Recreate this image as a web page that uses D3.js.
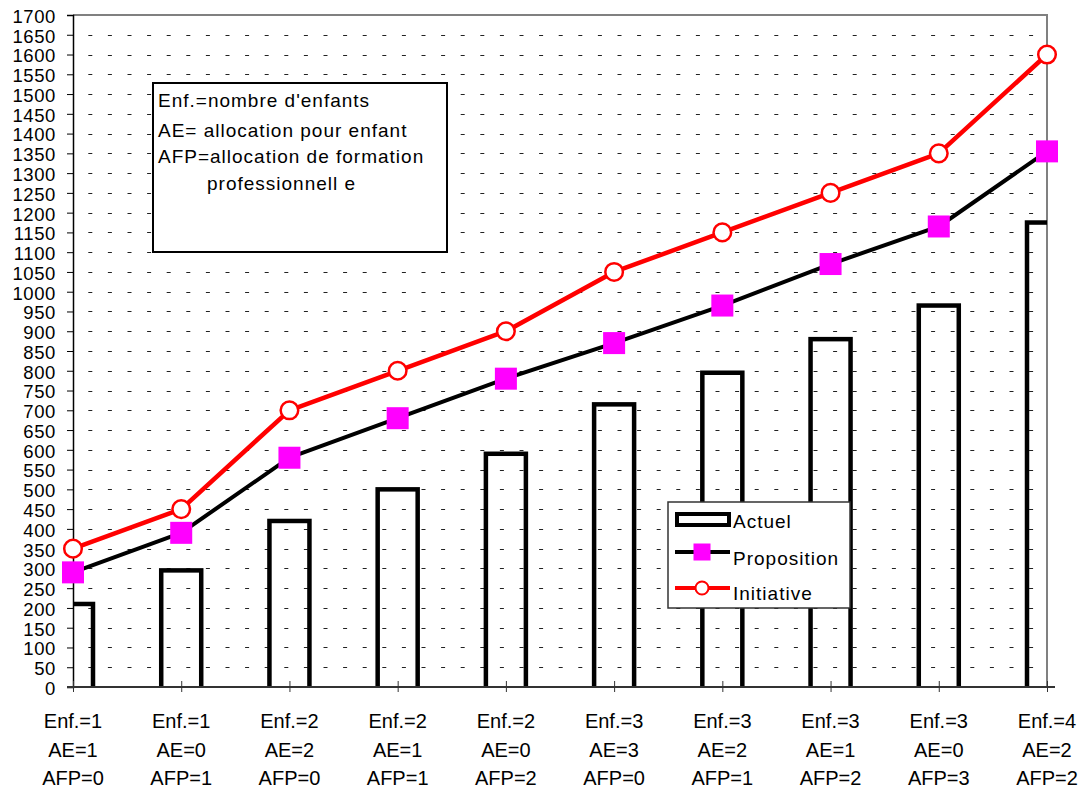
<!DOCTYPE html>
<html>
<head>
<meta charset="utf-8">
<script src="https://cdn.jsdelivr.net/npm/d3@7"></script>
<style>
  html, body { margin: 0; padding: 0; background: #fff; }
  svg { display: block; font-family: "Liberation Sans", Arial, sans-serif; }
</style>
</head>
<body>
<svg id="chart" width="1087" height="792"></svg>
<script>
// Household situations (three-line category labels)
const enfLabels = ["Enf.=1", "Enf.=1", "Enf.=2", "Enf.=2", "Enf.=2", "Enf.=3", "Enf.=3", "Enf.=3", "Enf.=3", "Enf.=4"];
const aeLabels  = ["AE=1", "AE=0", "AE=2", "AE=1", "AE=0", "AE=3", "AE=2", "AE=1", "AE=0", "AE=2"];
const afpLabels = ["AFP=0", "AFP=1", "AFP=0", "AFP=1", "AFP=2", "AFP=0", "AFP=1", "AFP=2", "AFP=3", "AFP=2"];

// Series
const actuel      = [210, 295, 420, 500, 590, 715, 795, 880, 965, 1175];
const proposition = [290, 390, 580, 680, 780, 870, 965, 1070, 1165, 1355];
const initiative  = [350, 450, 700, 800, 900, 1050, 1150, 1250, 1350, 1600];

// Y axis ticks
const yTicks = d3.range(0, 1701, 50);

const noteLines = ["Enf.=nombre d'enfants", "AE= allocation pour enfant", "AFP=allocation de formation", "professionnell e"];
const legendNames = ["Actuel", "Proposition", "Initiative"];

(function draw() {
  const svg = d3.select("#chart");
  const pLeft = 73, pRight = 1047, pTop = 15, pBottom = 687;

  const idx = d3.range(enfLabels.length);
  const x = d3.scalePoint().domain(idx).range([pLeft, pRight]);
  const y = d3.scaleLinear().domain([0, 1700]).range([pBottom, pTop]);

  // clip for the bars
  svg.append("defs").append("clipPath").attr("id", "plotClip")
    .append("rect").attr("x", pLeft).attr("y", pTop).attr("width", pRight - pLeft).attr("height", pBottom - pTop);

  // dotted horizontal gridlines
  svg.append("g").selectAll("line")
    .data(yTicks.filter(v => v > 0 && v < 1700))
    .join("line")
    .attr("x1", pLeft).attr("x2", pRight)
    .attr("y1", d => Math.round(y(d)) + 0.5).attr("y2", d => Math.round(y(d)) + 0.5)
    .attr("stroke", "#222").attr("stroke-width", 1)
    .attr("stroke-dasharray", "4 15.6").attr("stroke-dashoffset", 4.3);

  // plot frame (top and right)
  svg.append("path")
    .attr("d", `M${pLeft},${pTop}H${pRight}V${pBottom}`)
    .attr("fill", "none").attr("stroke", "#808080").attr("stroke-width", 2);

  // Actuel bars: hollow, thick outline
  const barW = 40;
  svg.append("g").attr("clip-path", "url(#plotClip)")
    .selectAll("rect").data(actuel).join("rect")
    .attr("x", (d, i) => x(i) - barW / 2)
    .attr("y", d => y(d))
    .attr("width", barW)
    .attr("height", d => y(0) - y(d) + 4)
    .attr("fill", "none").attr("stroke", "#000").attr("stroke-width", 4.5);

  // Y axis
  const yAxis = svg.append("g").attr("transform", `translate(${pLeft},0)`)
    .call(d3.axisLeft(y).tickValues(yTicks).tickSize(6).tickPadding(0).tickFormat(d3.format("d")));
  yAxis.select(".domain").attr("stroke", "#000").attr("stroke-width", 1.5);
  yAxis.selectAll(".tick line").attr("stroke", "#000");
  yAxis.selectAll(".tick text")
    .attr("x", -17).attr("dy", "0.4em")
    .attr("font-size", 18.5).attr("letter-spacing", 0.6).attr("fill", "#000")
    .attr("font-family", "Liberation Sans, Arial, sans-serif");

  // X axis: line with ticks crossing it
  const xAxis = svg.append("g").attr("transform", `translate(0,${pBottom})`)
    .call(d3.axisBottom(x).tickSizeInner(5).tickSizeOuter(0).tickFormat(""));
  xAxis.select(".domain").attr("d", `M${pLeft - 6},0H${pRight + 8}`).attr("stroke", "#333").attr("stroke-width", 2);
  xAxis.selectAll(".tick line").attr("y1", -6).attr("y2", 5).attr("stroke", "#333");

  // category labels (three lines)
  const lab = svg.append("g").attr("font-size", 20).attr("fill", "#000").attr("text-anchor", "middle");
  [[enfLabels, 728], [aeLabels, 757], [afpLabels, 785]].forEach(([arr, by]) => {
    lab.append("g").selectAll("text").data(arr).join("text")
      .attr("x", (d, i) => x(i)).attr("y", by).text(d => d);
  });

  // lines
  const line = d3.line().x((d, i) => x(i)).y(d => y(d));
  svg.append("path").datum(proposition).attr("d", line)
    .attr("fill", "none").attr("stroke", "#000").attr("stroke-width", 4).attr("stroke-linejoin", "round");
  svg.append("path").datum(initiative).attr("d", line)
    .attr("fill", "none").attr("stroke", "#ff0000").attr("stroke-width", 4.5).attr("stroke-linejoin", "round");

  // markers
  const sq = 22;
  svg.append("g").selectAll("rect").data(proposition).join("rect")
    .attr("x", (d, i) => x(i) - sq / 2).attr("y", d => y(d) - sq / 2)
    .attr("width", sq).attr("height", sq).attr("fill", "#ff00ff");
  svg.append("g").selectAll("circle").data(initiative).join("circle")
    .attr("cx", (d, i) => x(i)).attr("cy", d => y(d)).attr("r", 8.8)
    .attr("fill", "#fff").attr("stroke", "#ff0000").attr("stroke-width", 2.5);

  // note box
  const note = svg.append("g");
  note.append("rect").attr("x", 153).attr("y", 83).attr("width", 294).attr("height", 169)
    .attr("fill", "#fff").attr("stroke", "#000").attr("stroke-width", 2);
  const noteX = [158, 158, 158, 207], noteY = [107, 137, 163, 190];
  note.selectAll("text").data(noteLines).join("text")
    .attr("x", (d, i) => noteX[i]).attr("y", (d, i) => noteY[i])
    .attr("font-size", 19).attr("letter-spacing", 1).attr("fill", "#000")
    .text(d => d);

  // legend
  const lg = svg.append("g");
  lg.append("rect").attr("x", 668).attr("y", 502).attr("width", 182).attr("height", 106)
    .attr("fill", "#fff").attr("stroke", "#333").attr("stroke-width", 1.5);
  lg.append("rect").attr("x", 677).attr("y", 514).attr("width", 52).attr("height", 11)
    .attr("fill", "#fff").attr("stroke", "#000").attr("stroke-width", 4);
  lg.append("line").attr("x1", 675).attr("x2", 730).attr("y1", 552).attr("y2", 552)
    .attr("stroke", "#000").attr("stroke-width", 4);
  lg.append("rect").attr("x", 702 - 8.5).attr("y", 552 - 8.5).attr("width", 17).attr("height", 17)
    .attr("fill", "#ff00ff");
  lg.append("line").attr("x1", 675).attr("x2", 730).attr("y1", 588).attr("y2", 588)
    .attr("stroke", "#ff0000").attr("stroke-width", 4);
  lg.append("circle").attr("cx", 702).attr("cy", 588).attr("r", 6.5)
    .attr("fill", "#fff").attr("stroke", "#ff0000").attr("stroke-width", 2);
  lg.selectAll("text").data(legendNames).join("text")
    .attr("x", 733).attr("y", (d, i) => [528, 565, 600][i])
    .attr("font-size", 19).attr("letter-spacing", 1).attr("fill", "#000")
    .text(d => d);
})();
</script>
</body>
</html>
